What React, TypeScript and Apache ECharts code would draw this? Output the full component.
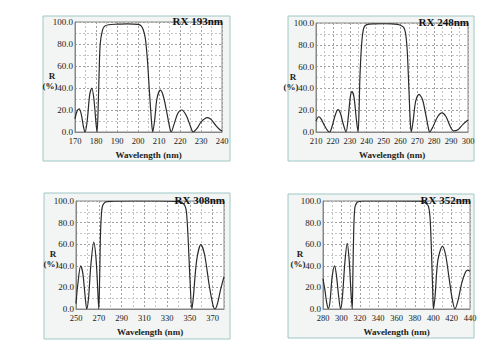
import React, { useEffect, useRef } from "react";
import * as echarts from "echarts";

// ---- data ----
const titles = ["RX 193nm", "RX 248nm", "RX 308nm", "RX 352nm"];

const wl193 = [170, 171, 172, 173, 174, 174.8, 175.8, 177, 178, 179, 180, 180.5, 181, 181.5, 182, 183, 184, 186, 190, 195, 200, 201.5, 202.5, 203.5, 204.5, 205.5, 206.5, 207, 208, 209, 210.6, 212, 213.5, 215, 215.8, 217, 219, 220.8, 223, 225, 226.2, 228, 230, 233, 235, 237, 239, 240];
const r193 = [12, 19, 21, 16, 5, 0, 10, 34, 40, 30, 8, 0, 20, 55, 80, 92, 96, 97.5, 98, 98.3, 97.8, 96.5, 93, 85, 65, 35, 8, 0, 12, 30, 38, 33, 20, 5, 0, 6, 17, 20, 15, 5, 0, 3, 9, 13, 11, 6, 2, 1];

const wl248 = [210, 211.6, 213, 215, 217, 218.1, 219.5, 221.5, 223, 224.5, 226, 227.8, 229, 230.3, 231.3, 232.5, 234, 234.9, 235.5, 236, 237, 238.2, 240, 245, 250, 255, 258, 260, 261.9, 263, 264, 265, 265.8, 266.4, 267.5, 269, 271, 273, 275, 276.5, 277.3, 279, 282, 284.6, 287, 289.5, 291.5, 294, 297, 300];
const r248 = [10, 14, 12, 6, 1, 0, 5, 16, 20.5, 17, 8, 0, 12, 32, 37, 32, 10, 0, 20, 50, 80, 95, 98.5, 99.2, 99.3, 99.2, 98.8, 98, 96, 91, 75, 40, 10, 0, 10, 28, 34.5, 30, 16, 4, 0, 4, 14, 17.5, 14, 5, 1, 2, 7, 11];

const wl308 = [250, 251.5, 254.1, 256, 258, 259.4, 261, 263, 265.6, 267.5, 269, 270, 270.8, 271.5, 272.5, 273.5, 276, 280, 300, 320, 340, 343, 345.5, 347, 348.5, 350, 351.8, 353, 356, 359.7, 363, 367, 370, 372, 374, 377, 380];
const r308 = [5, 22, 40, 33, 12, 0, 10, 40, 62, 48, 20, 0, 30, 70, 90, 96, 99, 99.7, 100, 100, 99.5, 98.5, 96, 90, 65, 30, 0, 10, 45, 59.6, 50, 22, 5, 0, 4, 18, 30];

const wl352 = [280, 282, 284, 285.8, 287.5, 290, 292.6, 294.5, 297, 299.1, 301, 304, 306.4, 308.5, 310.5, 311.8, 312.5, 313.5, 314.7, 316.5, 318.3, 325, 360, 385, 390, 392.5, 394.8, 396.5, 398, 399.3, 400.2, 402, 405, 410, 413.5, 417, 420.5, 423.7, 427, 431, 435, 437.4, 440];
const r352 = [28, 18, 6, 0.5, 6, 30, 40, 32, 12, 0, 10, 45, 60.7, 45, 15, 0, 30, 75, 94, 98, 99.3, 100, 100, 99.8, 99, 97.5, 95, 85, 55, 20, 0, 12, 45, 58, 50, 30, 10, 0, 8, 24, 34, 36, 35];

const xRanges = [
  { min: 170, max: 240, interval: 10, showMax: true },
  { min: 210, max: 300, interval: 10, showMax: true },
  { min: 250, max: 380, interval: 20, showMax: false },
  { min: 280, max: 440, interval: 20, showMax: true },
];
const yTicks = [0, 20, 40, 60, 80, 100];

const FONT = "Liberation Serif";

export default function App() {
  const ref = useRef<HTMLDivElement>(null);
  useEffect(() => {
    if (!ref.current) return;
    const chart = echarts.init(ref.current, null, { renderer: "svg" });

    const grids = [
      { left: 75, top: 22, width: 147, height: 110 },
      { left: 316, top: 23, width: 152, height: 109 },
      { left: 76, top: 201, width: 148, height: 108 },
      { left: 323, top: 201, width: 147, height: 108 },
    ];
    const boxes = [
      { x: 43, y: 16, width: 187, height: 145 },
      { x: 288, y: 16, width: 186, height: 145 },
      { x: 44, y: 193, width: 186, height: 146 },
      { x: 288, y: 194, width: 186, height: 144 },
    ];
    const data = [
      wl193.map((w, i) => [w, r193[i]]),
      wl248.map((w, i) => [w, r248[i]]),
      wl308.map((w, i) => [w, r308[i]]),
      wl352.map((w, i) => [w, r352[i]]),
    ];

    const gridLine = { show: true, lineStyle: { color: "#a0a0a0", type: [2, 2] as any, width: 1 } };
    const minorLine = { show: true, lineStyle: { color: "#c4c4c4", type: [2, 2] as any, width: 1 } };

    const graphics: any[] = [];
    boxes.forEach((b) => {
      graphics.push({
        type: "rect",
        z: -10,
        shape: { x: b.x, y: b.y, width: b.width, height: b.height },
        style: { fill: "#f2f5f3", stroke: "#9ec8c6", lineWidth: 1 },
      });
    });
    grids.forEach((g) => {
      const midY = g.top + g.height / 2;
      graphics.push({
        type: "text",
        z: 10,
        x: g.left - 23,
        y: midY - 1,
        style: { text: "R", font: `bold 9px "${FONT}"`, fill: "#222", align: "center", verticalAlign: "middle" },
      });
      graphics.push({
        type: "text",
        z: 10,
        x: g.left - 25,
        y: midY + 9,
        style: { text: "(%)", font: `bold 9px "${FONT}"`, fill: "#222", align: "center", verticalAlign: "middle" },
      });
    });

    chart.setOption({
      animation: false,
      backgroundColor: "#ffffff",
      title: grids.map((g, i) => ({
        text: titles[i],
        right: 504 - (g.left + g.width) - 1,
        top: g.top - 7,
        padding: 0,
        textStyle: { fontFamily: FONT, fontSize: 11, fontWeight: "bold", color: "#111" },
      })),
      grid: grids.map((g) => ({
        ...g,
        show: true,
        backgroundColor: "#ffffff",
        borderColor: "#888",
        borderWidth: 1,
      })),
      xAxis: xRanges.map((r, i) => ({
        type: "value",
        gridIndex: i,
        min: r.min,
        max: r.max,
        interval: r.interval,
        name: "Wavelength (nm)",
        nameLocation: "middle",
        nameGap: 18,
        nameTextStyle: { fontFamily: FONT, fontSize: 9, fontWeight: "bold", color: "#222" },
        axisLine: { show: true, lineStyle: { color: "#888" } },
        axisTick: { show: false },
        axisLabel: {
          fontFamily: FONT,
          fontSize: 8.5,
          color: "#222",
          margin: 4,
          showMaxLabel: r.showMax,
          formatter: (v: number) => String(v),
        },
        splitLine: gridLine,
        minorTick: { show: false, splitNumber: 2 },
        minorSplitLine: minorLine,
      })),
      yAxis: xRanges.map((_, i) => ({
        type: "value",
        gridIndex: i,
        min: yTicks[0],
        max: yTicks[yTicks.length - 1],
        interval: yTicks[1] - yTicks[0],
        axisLine: { show: true, lineStyle: { color: "#888" } },
        axisTick: { show: false },
        axisLabel: {
          fontFamily: FONT,
          fontSize: 9,
          color: "#222",
          margin: 2,
          formatter: (v: number) => v.toFixed(1),
        },
        splitLine: gridLine,
        minorTick: { show: false, splitNumber: 2 },
        minorSplitLine: minorLine,
      })),
      series: data.map((d, i) => ({
        type: "line",
        xAxisIndex: i,
        yAxisIndex: i,
        data: d,
        showSymbol: false,
        smooth: 0.3,
        lineStyle: { color: "#2a2a2a", width: 1.2 },
      })),
      graphic: graphics,
    });
    return () => chart.dispose();
  }, []);
  return (
    <div
      ref={ref}
      style={{ position: "fixed", left: 0, top: 0, width: 504, height: 360 }}
    />
  );
}
